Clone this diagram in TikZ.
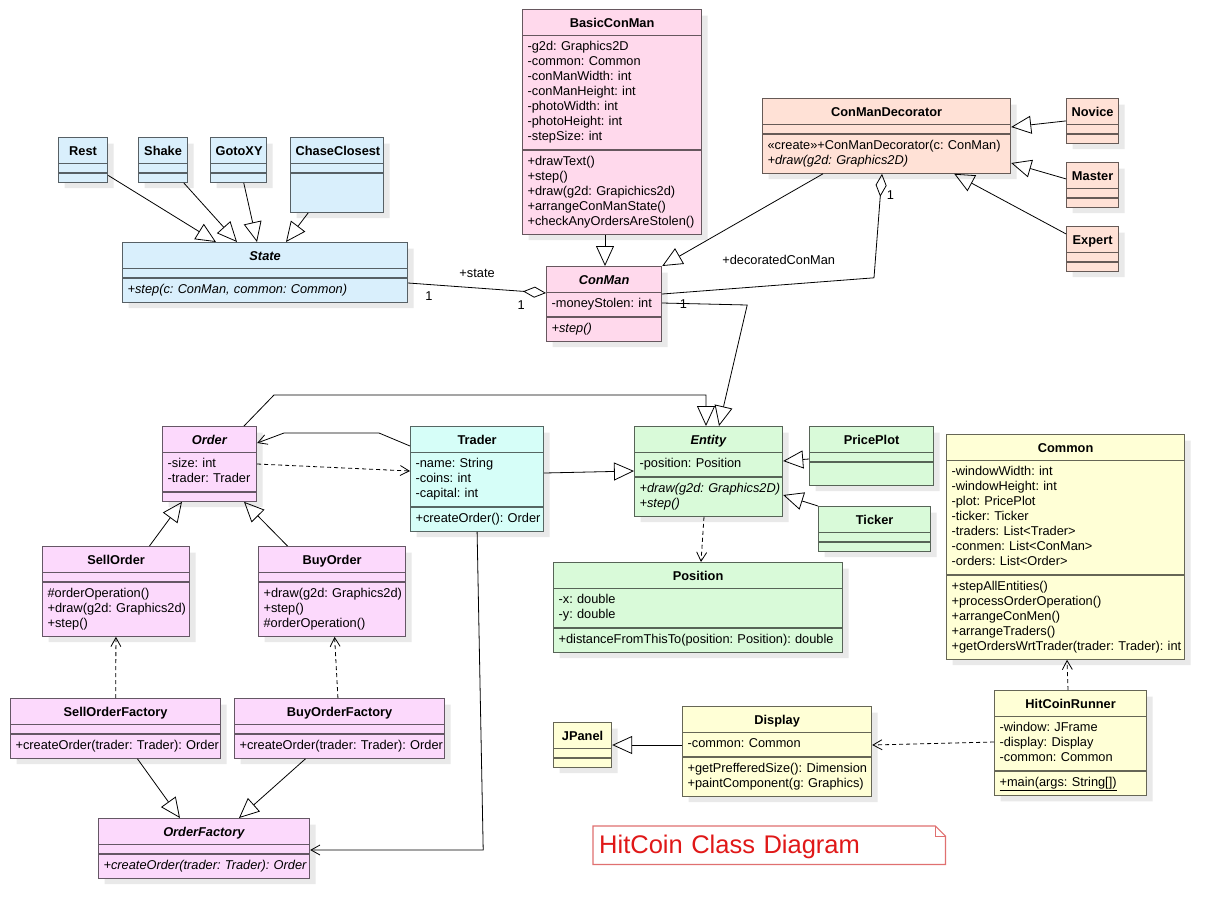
\documentclass[tikz,border=0pt]{standalone}
\usepackage{fontspec}
\setmainfont{Liberation Sans}
\usetikzlibrary{arrows.meta,shapes.multipart,shadows}
\definecolor{HCBlue}{HTML}{D9EFFC}
\definecolor{HCPink}{HTML}{FFD9EC}
\definecolor{HCSalmon}{HTML}{FFE1D6}
\definecolor{HCMagenta}{HTML}{FCD9FC}
\definecolor{HCCyan}{HTML}{D6FEF8}
\definecolor{HCGreen}{HTML}{D9FAD9}
\definecolor{HCYellow}{HTML}{FFFFD6}
\definecolor{HCShade}{HTML}{E9E9E9}
\definecolor{HCRed}{HTML}{E01818}
\definecolor{HCNote}{HTML}{E07070}
\newcommand\umlfont{\fontsize{12.8}{15}\selectfont\frenchspacing}
\newcommand\ctitle[1]{{\centering\rule[-3.5pt]{0pt}{17pt}\mbox{\textbf{#1}}\par}}
\newcommand\atitle[1]{{\centering\rule[-3.5pt]{0pt}{17pt}\mbox{\textbf{\textit{#1}}}\par}}
\newcommand\cpt[1]{\begin{tabular}[t]{@{}l@{}}#1\end{tabular}}
\tikzset{
  umlclass/.style={rectangle split, rectangle split parts=3,
    rectangle split empty part height=1.5pt, rectangle split empty part depth=0pt,
    fill=#1, draw=#1!40!black, line width=1.2pt, align=left,
    inner xsep=5pt, inner ysep=4pt, font=\umlfont, anchor=north west,
    drop shadow={shadow xshift=6pt, shadow yshift=-6pt, fill=HCShade, opacity=1}},
  gen/.style={-{Triangle[open,length=20pt,width=18pt]}, line width=.8pt},
  dep/.style={dash pattern=on 4pt off 3pt, -{Straight Barb[length=9pt,width=10pt]}, line width=.8pt},
  assoc/.style={-{Straight Barb[length=9pt,width=10pt]}, line width=.8pt},
  aggr/.style={{Diamond[open,length=23pt,width=11pt]}-, line width=.8pt},
  lbl/.style={font=\umlfont, inner sep=2pt},
}

\begin{document}
\begin{tikzpicture}[x=1pt,y=-1pt]
\fill[white] (0,0) rectangle (1224,922);
\path[use as bounding box] (0,0) rectangle (1224,922);

\node[umlclass=HCBlue, text width=39pt] (rest) at (58,137) {\ctitle{Rest}\nodepart{two}\nodepart{three}};
\node[umlclass=HCBlue, text width=39pt] (shake) at (138,137) {\ctitle{Shake}\nodepart{two}\nodepart{three}};
\node[umlclass=HCBlue, text width=46pt] (gotoxy) at (210,137) {\ctitle{GotoXY}\nodepart{two}\nodepart{three}};
\node[umlclass=HCBlue, text width=83pt] (chase) at (290,137) {\ctitle{ChaseClosest}\nodepart{two}\nodepart{three}\rule{0pt}{30pt}};
\node[umlclass=HCBlue, text width=275pt] (state) at (122,242) {\atitle{State}\nodepart{two}\nodepart{three}\cpt{\textit{+step(c: ConMan, common: Common)}}};

\node[umlclass=HCPink, text width=169pt] (basic) at (522,9) {\ctitle{BasicConMan}
  \nodepart{two}\cpt{-g2d: Graphics2D\\-common: Common\\-conManWidth: int\\-conManHeight: int\\-photoWidth: int\\-photoHeight: int\\-stepSize: int}
  \nodepart{three}\cpt{+drawText()\\+step()\\+draw(g2d: Grapichics2d)\\+arrangeConManState()\\+checkAnyOrdersAreStolen()}};
\node[umlclass=HCPink, text width=105pt] (conman) at (546,266) {\atitle{ConMan}\nodepart{two}\cpt{-moneyStolen: int}\nodepart{three}\cpt{\textit{+step()}}};

\node[umlclass=HCSalmon, text width=238pt] (decorator) at (762,98) {\ctitle{ConManDecorator}\nodepart{two}
  \nodepart{three}\cpt{«create»+ConManDecorator(c: ConMan)\\\textit{+draw(g2d: Graphics2D)}}};
\node[umlclass=HCSalmon, text width=42pt] (novice) at (1066,98) {\ctitle{Novice}\nodepart{two}\nodepart{three}};
\node[umlclass=HCSalmon, text width=42pt] (master) at (1066,162) {\ctitle{Master}\nodepart{two}\nodepart{three}};
\node[umlclass=HCSalmon, text width=42pt] (expert) at (1066,226) {\ctitle{Expert}\nodepart{two}\nodepart{three}};

\node[umlclass=HCMagenta, text width=84pt] (order) at (162,426) {\atitle{Order}\nodepart{two}\cpt{-size: int\\-trader: Trader}\nodepart{three}};
\node[umlclass=HCCyan, text width=123pt] (trader) at (410,426) {\ctitle{Trader}\nodepart{two}\cpt{-name: String\\-coins: int\\-capital: int}\nodepart{three}\cpt{+createOrder(): Order}};
\node[umlclass=HCMagenta, text width=137pt] (sellorder) at (42,546) {\ctitle{SellOrder}\nodepart{two}
  \nodepart{three}\cpt{\#orderOperation()\\+draw(g2d: Graphics2d)\\+step()}};
\node[umlclass=HCMagenta, text width=137pt] (buyorder) at (258,546) {\ctitle{BuyOrder}\nodepart{two}
  \nodepart{three}\cpt{+draw(g2d: Graphics2d)\\+step()\\\#orderOperation()}};
\node[umlclass=HCMagenta, text width=200pt] (sellfactory) at (10,698) {\ctitle{SellOrderFactory}\nodepart{two}\nodepart{three}\cpt{+createOrder(trader: Trader): Order}};
\node[umlclass=HCMagenta, text width=200pt] (buyfactory) at (234,698) {\ctitle{BuyOrderFactory}\nodepart{two}\nodepart{three}\cpt{+createOrder(trader: Trader): Order}};
\node[umlclass=HCMagenta, text width=201pt] (orderfactory) at (98,818) {\atitle{OrderFactory}\nodepart{two}\nodepart{three}\cpt{\textit{+createOrder(trader: Trader): Order}}};

\node[umlclass=HCGreen, text width=138pt] (entity) at (634,426) {\atitle{Entity}\nodepart{two}\cpt{-position: Position}
  \nodepart{three}\cpt{\textit{+draw(g2d: Graphics2D)}\\\textit{+step()}}};
\node[umlclass=HCGreen, text width=114pt] (priceplot) at (809,426) {\ctitle{PricePlot}\nodepart{two}\nodepart{three}\rule{0pt}{14pt}};
\node[umlclass=HCGreen, text width=102pt] (ticker) at (818,506) {\ctitle{Ticker}\nodepart{two}\nodepart{three}};
\node[umlclass=HCGreen, text width=279pt] (position) at (553,562) {\ctitle{Position}\nodepart{two}\cpt{-x: double\\-y: double}
  \nodepart{three}\cpt{+distanceFromThisTo(position: Position): double}};

\node[umlclass=HCYellow, text width=228pt] (common) at (946,434) {\ctitle{Common}
  \nodepart{two}\cpt{-windowWidth: int\\-windowHeight: int\\-plot: PricePlot\\-ticker: Ticker\\-traders: List<Trader>\\-conmen: List<ConMan>\\-orders: List<Order>}
  \nodepart{three}\cpt{+stepAllEntities()\\+processOrderOperation()\\+arrangeConMen()\\+arrangeTraders()\\+getOrdersWrtTrader(trader: Trader): int}};
\node[umlclass=HCYellow, text width=142pt] (runner) at (994,690) {\ctitle{HitCoinRunner}
  \nodepart{two}\cpt{-window: JFrame\\-display: Display\\-common: Common}\nodepart{three}\cpt{\underline{+main(args: String[])}}};
\node[umlclass=HCYellow, text width=179pt] (display) at (682,706) {\ctitle{Display}\nodepart{two}\cpt{-common: Common}
  \nodepart{three}\cpt{+getPrefferedSize(): Dimension\\+paintComponent(g: Graphics)}};
\node[umlclass=HCYellow, text width=48pt] (jpanel) at (553,722) {\ctitle{JPanel}\nodepart{two}\nodepart{three}};

\draw[gen] (rest) -- ([xshift=94pt]state.north west);
\draw[gen] (shake) -- ([xshift=115pt]state.north west);
\draw[gen] (gotoxy) -- ([xshift=135pt]state.north west);
\draw[gen] (chase) -- ([xshift=164pt]state.north west);
\draw[gen] ([xshift=83pt]basic.south west) -- ([xshift=59pt]conman.north west);
\draw[gen] ([xshift=61pt]decorator.south west) -- (conman.north east);
\draw[gen] (novice.west) -- ([yshift=-29pt]decorator.north east);
\draw[gen] ([yshift=6pt]master.west) -- ([yshift=-65pt]decorator.north east);
\draw[gen] ([yshift=15pt]expert.west) -- ([xshift=-57pt]decorator.south east);
\draw[aggr] ([yshift=-27pt]conman.north west)
  -- node[lbl, pos=.18, below=7pt] (m2) {1}
     node[lbl, pos=.5, above=8pt] (rolestate) {+state}
     node[lbl, pos=.85, below=5pt] (m1) {1} ([yshift=-41pt]state.north east);
\draw[aggr] ([xshift=120pt]decorator.south west)
  -- node[lbl, pos=.2, right=4pt] (m3) {1} ++(-8,104)
  -- node[lbl, pos=.45, above=18pt] (roledeco) {+decoratedConMan}
     node[lbl, pos=.9, below=5pt] (m4) {1} ([yshift=-28pt]conman.north east);
\draw[gen] ([yshift=-37pt]conman.north east) -- ++(85,2) -- ([xshift=85pt]entity.north west);

\draw[gen] ([xshift=82pt]order.north west) -- ++(30,-31) -- ++(432,0) -- ([xshift=72pt]entity.north west);
\draw[assoc] ([yshift=-20pt]trader.north west) -- ++(-31,-13) -- ++(-95,0) -- ([yshift=-17pt]order.north east);
\draw[dep] ([yshift=-38pt]order.north east) -- ([yshift=-45pt]trader.north west);
\draw[gen] ([yshift=-47pt]trader.north east) -- ([yshift=-45pt]entity.north west);
\draw[assoc] (trader.south) -- ([xshift=173pt,yshift=-32pt]orderfactory.north east) -- ([yshift=-32pt]orderfactory.north east);
\draw[gen] (sellorder) -- ([xshift=20pt]order.south west);
\draw[gen] (buyorder) -- ([xshift=82pt]order.south west);
\draw[dep] (sellfactory) -- (sellorder);
\draw[dep] (buyfactory) -- (buyorder);
\draw[gen] (sellfactory) -- ([xshift=82pt]orderfactory.north west);
\draw[gen] (buyfactory) -- ([xshift=141pt]orderfactory.north west);

\draw[gen] ([yshift=-33pt]priceplot.north west) -- ([yshift=-35pt]entity.north east);
\draw[gen] (ticker.north west) -- ([yshift=-69pt]entity.north east);
\draw[dep] ([xshift=70pt]entity.south west) -- ([xshift=148pt]position.north west);
\draw[dep] ([xshift=74pt]runner.north west) -- ([xshift=121pt]common.south west);
\draw[dep] ([yshift=-52pt]runner.north west) -- ([yshift=-39pt]display.north east);
\draw[gen] ([yshift=-39pt]display.north west) -- ([yshift=-23pt]jpanel.north east);

\node[anchor=north west, text width=340pt, inner xsep=6pt, inner ysep=7pt, text height=20pt, text depth=4pt,
  align=left, text=HCRed, font=\fontsize{25.5}{28}\selectfont] (title) at (593,826) {HitCoin Class Diagram};
\draw[HCNote, line width=1.2pt] (title.north west) -- ([xshift=-10pt]title.north east) -- ([yshift=-10pt]title.north east)
  -- (title.south east) -- (title.south west) -- cycle;
\draw[HCNote, line width=.8pt] ([xshift=-10pt]title.north east) -- ([xshift=-10pt,yshift=-10pt]title.north east) -- ([yshift=-10pt]title.north east);
\end{tikzpicture}
\end{document}
